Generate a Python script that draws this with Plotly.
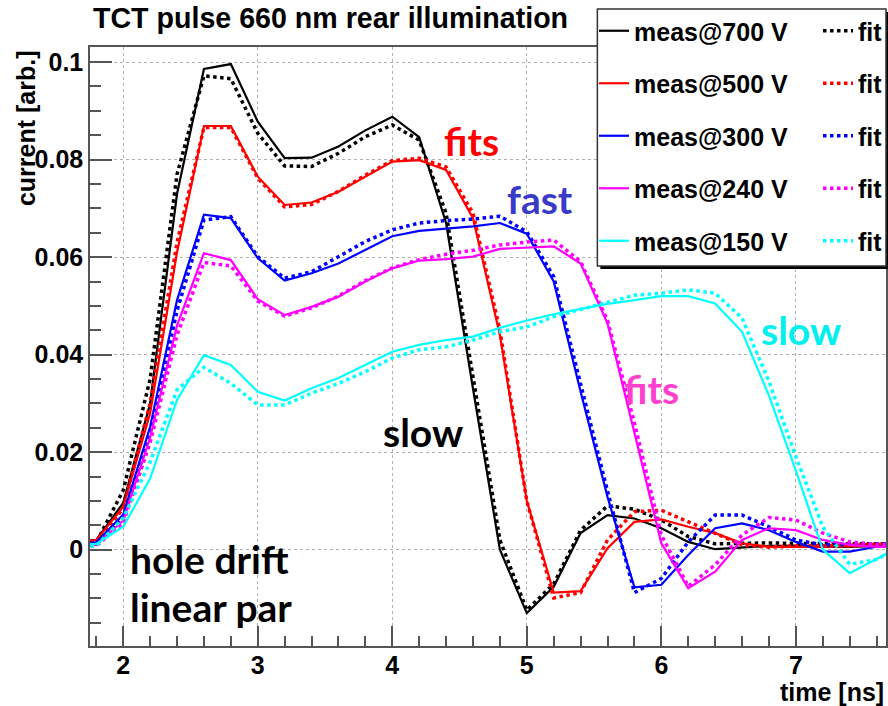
import plotly.graph_objects as go

# ---------------- data ----------------
t = [1.6, 1.8, 2.0, 2.2, 2.4, 2.6, 2.8, 3.0, 3.2, 3.4, 3.6, 3.8, 4.0, 4.2, 4.4, 4.6,
     4.8, 5.0, 5.2, 5.4, 5.6, 5.8, 6.0, 6.2, 6.4, 6.6, 6.8, 7.0, 7.2, 7.4, 7.6, 7.8]

meas_700 = [0.0015, 0.002, 0.0096, 0.030, 0.073, 0.0986, 0.0996, 0.0878, 0.0803, 0.0804, 0.0827, 0.086,
            0.0888, 0.0846, 0.067, 0.033, 0.0, -0.013, -0.0076, 0.0034, 0.0071, 0.0064, 0.0044, 0.0016,
            0.0001, 0.0005, 0.0008, 0.0008, 0.0006, 0.0006, 0.0008, 0.0008]
fit_700 = [0.001, 0.0015, 0.0122, 0.035, 0.077, 0.0972, 0.0966, 0.0854, 0.0787, 0.0786, 0.0813, 0.0847,
           0.0871, 0.084, 0.069, 0.036, 0.002, -0.0124, -0.007, 0.004, 0.009, 0.0083, 0.0061, 0.0027,
           0.0012, 0.0013, 0.0014, 0.0013, 0.0012, 0.0012, 0.0012, 0.0012]

meas_500 = [0.0015, 0.002, 0.0088, 0.028, 0.061, 0.0869, 0.0869, 0.0765, 0.0707, 0.0712, 0.0734, 0.0765,
            0.0796, 0.0799, 0.0779, 0.068, 0.044, 0.0100, -0.0088, -0.0085, 0.0003, 0.0057, 0.0062, 0.0047,
            0.0034, 0.0013, 0.0006, 0.0006, 0.0006, 0.0007, 0.0008, 0.0008]
fit_500 = [0.001, 0.0015, 0.0085, 0.030, 0.063, 0.0866, 0.0866, 0.0762, 0.0703, 0.0708, 0.0735, 0.0768,
           0.0798, 0.0803, 0.0785, 0.069, 0.045, 0.0100, -0.0099, -0.0088, 0.002, 0.0078, 0.0081, 0.0057,
           0.0033, 0.0010, 0.0005, 0.0008, 0.0008, 0.0010, 0.0012, 0.0012]

meas_300 = [0.001, 0.0015, 0.0072, 0.0252, 0.0512, 0.0687, 0.068, 0.0598, 0.0552, 0.0567, 0.0587, 0.0615,
            0.0643, 0.0654, 0.0659, 0.0663, 0.067, 0.0648, 0.055, 0.0324, 0.0108, -0.0077, -0.0072, -0.0011,
            0.0044, 0.0054, 0.004, 0.0016, -0.0004, -0.0004, 0.0006, 0.001]
fit_300 = [0.0008, 0.0012, 0.0065, 0.024, 0.049, 0.0676, 0.0683, 0.0601, 0.0557, 0.057, 0.0601, 0.0632,
           0.0656, 0.067, 0.0675, 0.0678, 0.0684, 0.0652, 0.056, 0.034, 0.012, -0.0088, -0.0059, 0.0016,
           0.0071, 0.0071, 0.0047, 0.002, 0.001, 0.0011, 0.0012, 0.0012]

meas_240 = [0.0008, 0.001, 0.006, 0.023, 0.046, 0.0608, 0.0594, 0.0514, 0.0481, 0.0498, 0.0519, 0.055,
            0.0577, 0.0593, 0.0596, 0.0601, 0.0617, 0.062, 0.0622, 0.0587, 0.0464, 0.024, 0.0013, -0.0079,
            -0.0045, 0.002, 0.0044, 0.004, 0.002, 0.001, 0.0006, 0.0005]
fit_240 = [0.0005, 0.0008, 0.0055, 0.022, 0.044, 0.0589, 0.0582, 0.051, 0.0479, 0.0496, 0.052, 0.0552,
           0.0578, 0.0595, 0.0606, 0.0614, 0.0625, 0.0631, 0.0635, 0.0591, 0.047, 0.026, 0.003, -0.0075,
           -0.0031, 0.003, 0.0066, 0.0061, 0.0034, 0.0016, 0.0011, 0.001]

meas_150 = [0.001, 0.0012, 0.0047, 0.0146, 0.0307, 0.0399, 0.0379, 0.0324, 0.0306, 0.0331, 0.0352, 0.0379,
            0.0406, 0.042, 0.043, 0.0437, 0.0455, 0.047, 0.0483, 0.0494, 0.0504, 0.0512, 0.052, 0.052,
            0.0505, 0.0447, 0.0316, 0.0162, 0.0, -0.0048, -0.002, 0.001]
fit_150 = [0.0006, 0.0008, 0.0065, 0.018, 0.0328, 0.0374, 0.0341, 0.0297, 0.0297, 0.0321, 0.0341, 0.0365,
           0.0393, 0.041, 0.0416, 0.043, 0.0447, 0.0457, 0.0478, 0.0493, 0.0508, 0.0522, 0.0526, 0.0533,
           0.0526, 0.0475, 0.0345, 0.0191, 0.0047, -0.003, -0.002, 0.001]

voltages = ["700", "500", "300", "240", "150"]
colors = ["#000000", "#ff0000", "#0000ff", "#ff00ff", "#00ffff"]
meas_series = [meas_700, meas_500, meas_300, meas_240, meas_150]
fit_series = [fit_700, fit_500, fit_300, fit_240, fit_150]

x_ticks = [2, 3, 4, 5, 6, 7]

# ---------------- figure ----------------
W, H = 888, 706
ML, MR, MT, MB = 90, 1, 47, 60
PW, PH = W - ML - MR, H - MT - MB


def px(x, y):
    """pixel -> paper coordinates (for decorations only)"""
    return (x - ML) / PW, (H - MB - y) / PH


AXF = "Liberation Sans, Arial, sans-serif"
TXF = "Lato, Open Sans, sans-serif"

fig = go.Figure()
for v, c, m, f in zip(voltages, colors, meas_series, fit_series):
    fig.add_trace(go.Scatter(x=t, y=m, mode="lines", name=f"meas@{v} V",
                             line=dict(color=c, width=2.2), legend="legend",
                             legendgroup="m" + v))
    fig.add_trace(go.Scatter(x=t, y=f, mode="lines", name="fit",
                             line=dict(color=c, width=3.5, dash="dot"), legend="legend2",
                             legendgroup="f" + v))

fig.update_layout(
    width=W, height=H,
    margin=dict(l=ML, r=MR, t=MT, b=MB, pad=0),
    plot_bgcolor="white", paper_bgcolor="white",
    font=dict(family=AXF, color="black"),
    showlegend=True,
)

fig.update_xaxes(
    range=[1.753, 7.67], tickvals=x_ticks, ticks="inside", ticklen=20, tickwidth=1.5,
    tickcolor="#555", showline=True, linecolor="#555", linewidth=1.5, mirror=True,
    showgrid=True, gridcolor="#b0b0b0", griddash="dot", gridwidth=1, zeroline=False,
    tickfont=dict(size=25, weight="bold", family=AXF), ticklabelstandoff=-4,
    minor=dict(dtick=0.2, ticks="inside", ticklen=10, tickcolor="#555", tickwidth=1.5, showgrid=False),
)
fig.update_yaxes(
    range=[-0.01975, 0.1031], dtick=0.02, tick0=0, ticks="inside", ticklen=22, tickwidth=1.5,
    tickcolor="#555", showline=True, linecolor="#555", linewidth=1.5, mirror=True,
    showgrid=True, gridcolor="#b0b0b0", griddash="dot", gridwidth=1, zeroline=False,
    tickfont=dict(size=25, weight="bold", family=AXF),
    minor=dict(dtick=0.005, ticks="inside", ticklen=11, tickcolor="#555", tickwidth=1.5, showgrid=False),
)

# legend box (shadow + white box)
sx0, sy0 = px(601, 12)
sx1, sy1 = px(891, 269)
bx0, by0 = px(598, 9)
bx1, by1 = px(887, 266)
fig.add_shape(type="rect", xref="paper", yref="paper", x0=sx0, x1=sx1, y0=sy1, y1=sy0,
              fillcolor="black", line=dict(width=0), layer="above")
fig.add_shape(type="rect", xref="paper", yref="paper", x0=bx0, x1=bx1, y0=by1, y1=by0,
              fillcolor="white", line=dict(color="#333", width=1.5), layer="above")

lx1, ly = px(594, 8)
lx2, _ = px(818, 8)
legend_common = dict(bgcolor="rgba(0,0,0,0)", borderwidth=0, xanchor="left", yanchor="top",
                     font=dict(size=25, weight="bold", family=AXF, color="black"),
                     tracegroupgap=17, itemwidth=30, traceorder="grouped")
fig.update_layout(legend=dict(x=lx1, y=ly, **legend_common),
                  legend2=dict(x=lx2, y=ly, **legend_common))

# titles
tx, ty = px(91, 18)
fig.add_annotation(text="TCT pulse 660 nm rear illumination", xref="paper", yref="paper",
                   x=tx, y=ty, xanchor="left", yanchor="middle", showarrow=False,
                   font=dict(size=28.6, weight="bold", family=AXF, color="black"))
yx, yy = px(26, 128)
fig.add_annotation(text="current [arb.]", xref="paper", yref="paper", x=yx, y=yy,
                   xanchor="center", yanchor="middle", textangle=-90, showarrow=False,
                   font=dict(size=25, weight="bold", family=AXF, color="black"))
xx, xy = px(887, 692)
fig.add_annotation(text="time [ns]", xref="paper", yref="paper", x=xx, y=xy,
                   xanchor="right", yanchor="middle", showarrow=False,
                   font=dict(size=25, weight="bold", family=AXF, color="black"))

# in-plot labels (data coordinates)
labels = [
    ("fits", 4.589, 0.0838, "#ff0000", "center"),
    ("fast", 5.095, 0.0720, "#3a3ac8", "center"),
    ("slow", 4.225, 0.0241, "#000000", "center"),
    ("slow", 7.038, 0.0451, "#00f0f0", "center"),
    ("fits", 5.93, 0.0330, "#ff40cc", "center"),
    ("hole drift", 2.036, -0.0019, "#000000", "left"),
    ("linear par", 2.036, -0.0118, "#000000", "left"),
]
for txt, lx, lyv, col, anc in labels:
    fig.add_annotation(text=txt, x=lx, y=lyv, xref="x", yref="y", xanchor=anc, yanchor="middle",
                       showarrow=False, font=dict(size=39, weight="bold", family=TXF, color=col))

fig.write_html("out.html")
